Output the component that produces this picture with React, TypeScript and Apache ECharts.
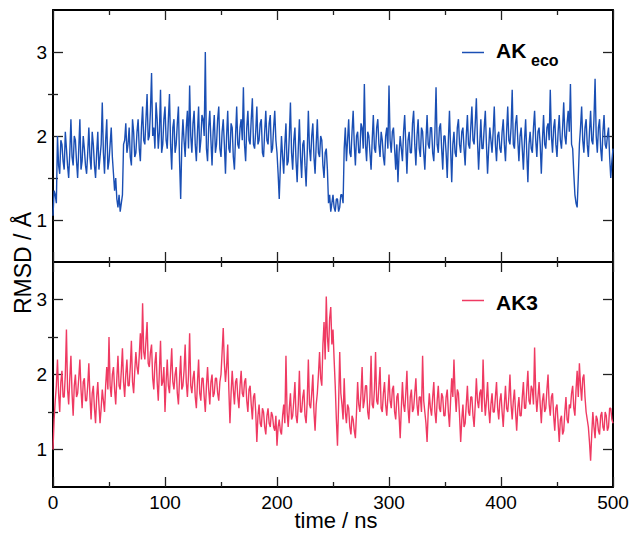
import { useEffect, useRef } from "react";
import * as echarts from "echarts";

// sampling step of the traces (ns)
const timeStepNs = 1;

// AK_eco RMSD (Å), t = 0, 1, ..., 500 ns (one row = 50 ns)
const akEcoRmsd = [
  1.05, 1.35, 1.3, 1.2, 2.0, 1.65, 1.55, 1.95, 1.9, 1.7, 1.6, 2.05, 1.85, 1.65, 1.5, 1.8, 2.2, 1.75, 1.65, 2.0, 1.95, 1.7, 1.5, 1.85, 2.2, 1.6, 1.7, 2.0, 1.85, 1.65, 1.55, 1.8, 2.1, 1.75, 1.6, 2.05, 1.9, 1.65, 1.5, 1.8, 2.05, 1.6, 1.75, 1.9, 2.4, 1.8, 1.55, 1.95, 2.2, 1.6,
  1.7, 1.9, 2.1, 1.75, 1.55, 1.35, 1.5, 1.25, 1.15, 1.3, 1.1, 1.2, 1.3, 1.9, 1.95, 2.15, 1.8, 1.9, 2.1, 1.75, 1.65, 2.2, 2.05, 1.75, 1.8, 2.05, 2.2, 1.85, 1.7, 2.1, 2.35, 1.95, 1.9, 2.2, 2.5, 1.95, 2.0, 2.3, 2.75, 2.0, 2.1, 1.85, 2.4, 2.2, 1.85, 2.05, 2.55, 1.8, 1.9, 2.2,
  2.35, 1.95, 1.85, 2.2, 2.5, 1.9, 1.6, 2.1, 2.2, 1.8, 1.9, 2.15, 2.35, 1.7, 1.25, 1.9, 2.2, 1.95, 1.75, 2.1, 2.3, 1.85, 2.6, 2.0, 1.8, 2.15, 2.3, 1.9, 1.7, 2.05, 2.35, 1.8, 1.95, 2.25, 2.2, 2.0, 3.0, 1.85, 1.7, 2.1, 2.3, 1.95, 1.65, 2.05, 2.25, 1.8, 1.9, 2.2, 2.35, 1.85,
  1.75, 2.05, 2.2, 1.9, 1.55, 2.0, 2.3, 1.85, 1.8, 2.15, 2.1, 1.75, 1.6, 2.0, 2.35, 1.9, 1.85, 2.1, 2.2, 1.95, 2.58, 1.9, 1.7, 2.1, 2.3, 1.95, 1.9, 2.2, 2.45, 1.9, 1.85, 2.05, 2.35, 1.9, 1.95, 2.15, 2.2, 1.8, 1.75, 2.05, 2.3, 1.95, 1.9, 2.15, 2.25, 1.8, 1.85, 2.1, 2.3, 1.95,
  1.8, 1.55, 1.25, 1.65, 2.0, 1.75, 1.55, 1.9, 2.15, 1.65, 1.7, 2.0, 2.4, 1.8, 1.6, 1.95, 2.1, 1.7, 1.45, 1.85, 2.2, 1.75, 1.5, 1.9, 1.95, 1.65, 1.4, 1.8, 2.3, 1.85, 1.7, 2.0, 2.15, 1.75, 1.55, 1.9, 2.2, 1.8, 1.75, 2.0, 1.95, 1.65, 1.5, 1.8, 1.85, 1.6, 1.2, 1.3, 1.1, 1.2,
  1.3, 1.15, 1.1, 1.25, 1.25, 1.1, 1.15, 1.3, 1.3, 1.2, 1.85, 2.1, 1.7, 1.95, 2.2, 1.8, 1.75, 2.05, 2.3, 1.9, 1.65, 2.0, 2.05, 1.8, 1.8, 2.15, 2.1, 1.85, 2.62, 1.9, 1.7, 2.05, 2.0, 1.8, 1.6, 1.95, 2.25, 1.85, 1.8, 2.1, 2.2, 1.9, 1.75, 2.05, 1.95, 1.75, 1.65, 2.0, 2.1, 1.85,
  2.6, 1.95, 1.8, 2.05, 2.1, 1.85, 1.6, 1.9, 1.45, 1.8, 2.0, 1.85, 1.7, 2.05, 2.25, 1.9, 1.55, 1.95, 2.05, 1.8, 1.8, 2.15, 2.3, 1.9, 1.65, 2.0, 2.2, 1.85, 1.75, 2.1, 2.05, 1.8, 1.6, 1.95, 2.25, 1.9, 1.85, 2.1, 2.1, 1.8, 1.7, 2.05, 2.58, 1.9, 1.8, 2.1, 2.15, 1.85, 1.6, 2.0,
  2.0, 1.8, 1.5, 1.95, 2.3, 1.85, 1.45, 1.9, 2.05, 1.8, 1.75, 2.1, 2.2, 1.9, 1.8, 2.05, 2.1, 1.85, 1.65, 2.0, 2.25, 1.9, 1.85, 2.1, 2.35, 1.95, 1.9, 2.15, 2.45, 1.95, 1.6, 1.9, 2.2, 1.85, 1.85, 2.1, 2.3, 1.9, 1.55, 1.85, 2.1, 1.95, 1.8, 2.05, 2.35, 1.9, 1.7, 2.0, 2.05, 1.85,
  1.8, 2.05, 2.2, 1.9, 1.7, 2.05, 2.35, 1.95, 1.9, 2.1, 2.55, 1.9, 1.85, 2.15, 2.25, 1.95, 1.7, 2.0, 2.1, 1.85, 1.6, 1.95, 2.2, 1.8, 1.45, 1.9, 2.05, 1.85, 1.8, 2.1, 2.3, 1.95, 1.75, 2.05, 2.1, 1.9, 1.55, 1.95, 2.25, 1.9, 1.85, 2.1, 2.15, 1.95, 2.55, 2.0, 1.8, 2.1, 2.2, 1.9,
  1.75, 2.05, 2.25, 1.95, 1.85, 2.1, 2.4, 2.0, 1.9, 2.15, 2.3, 2.05, 2.62, 1.9, 1.85, 1.55, 1.3, 1.2, 1.15, 1.5, 1.9, 2.1, 2.35, 1.95, 1.8, 2.1, 2.2, 1.9, 1.75, 2.05, 2.3, 1.95, 1.9, 2.2, 2.68, 2.0, 1.8, 2.1, 2.2, 1.85, 1.7, 2.05, 2.25, 1.9, 1.85, 2.0, 2.1, 1.75, 1.5, 1.7,
  1.85,
];

// AK3 RMSD (Å), t = 0, 1, ..., 500 ns (one row = 50 ns)
const ak3Rmsd = [
  1.0, 1.4, 1.65, 1.85, 2.2, 1.75, 1.5, 1.9, 2.05, 1.7, 1.7, 2.0, 2.6, 1.8, 1.6, 1.95, 2.25, 1.75, 1.45, 1.85, 2.0, 1.7, 1.75, 1.95, 2.2, 1.8, 1.55, 1.9, 1.95, 1.65, 1.65, 1.85, 2.15, 1.7, 1.4, 1.75, 1.85, 1.55, 1.35, 1.7, 1.9, 1.6, 1.35, 1.55, 1.8, 1.65, 1.5, 1.85, 2.1, 1.8,
  2.5, 1.85, 1.7, 2.0, 2.1, 1.8, 1.6, 1.95, 2.25, 1.85, 1.8, 2.05, 2.35, 1.9, 1.7, 2.0, 2.2, 1.85, 1.85, 2.1, 2.45, 1.9, 1.75, 2.05, 2.3, 2.1, 2.0, 2.25, 2.55, 2.2, 2.95, 2.3, 2.2, 2.45, 2.7, 2.15, 2.1, 2.3, 2.4, 1.95, 1.8, 2.15, 2.3, 1.9, 1.65, 2.05, 2.45, 1.85, 1.9, 2.1,
  1.5, 1.9, 2.2, 1.85, 1.75, 2.05, 2.35, 1.9, 1.8, 2.0, 2.1, 1.75, 1.6, 1.95, 2.25, 1.8, 1.85, 2.05, 2.4, 1.9, 1.7, 2.0, 2.55, 1.85, 1.75, 1.95, 2.05, 1.7, 1.55, 1.9, 2.2, 1.75, 1.65, 1.95, 1.95, 1.7, 1.5, 1.85, 2.1, 1.8, 1.6, 1.9, 2.0, 1.7, 1.75, 1.95, 1.95, 1.75, 1.65, 1.9,
  2.0, 2.3, 2.62, 2.15, 1.9, 2.1, 2.4, 1.8, 1.35, 1.75, 2.05, 1.8, 1.6, 1.9, 1.95, 1.7, 1.55, 1.85, 2.05, 1.75, 1.7, 1.9, 1.95, 1.65, 1.5, 1.8, 1.85, 1.6, 1.4, 1.7, 1.75, 1.5, 1.1, 1.45, 1.6, 1.35, 1.3, 1.55, 1.5, 1.3, 1.2, 1.45, 1.55, 1.35, 1.3, 1.5, 1.45, 1.3, 1.25, 1.45,
  1.05, 1.3, 1.4, 1.25, 1.2, 1.45, 1.6, 1.35, 2.25, 1.5, 1.3, 1.55, 1.75, 1.4, 1.45, 1.65, 1.9, 1.45, 1.35, 1.6, 2.05, 1.5, 1.5, 1.7, 1.8, 1.45, 1.35, 1.65, 2.2, 1.6, 1.55, 1.75, 2.0, 1.5, 1.25, 1.6, 1.75, 2.0, 2.3, 1.95, 1.85, 2.4, 2.7, 2.2, 3.04, 2.5, 2.3, 2.75, 2.9, 2.4,
  2.6, 2.2, 1.85, 1.4, 1.05, 1.6, 2.3, 1.75, 1.6, 1.4, 1.95, 1.5, 1.35, 1.6, 1.55, 1.3, 1.2, 1.45, 1.4, 1.25, 1.15, 1.5, 1.9, 1.6, 1.5, 1.75, 2.1, 1.55, 1.65, 1.85, 1.85, 1.5, 1.4, 1.7, 2.25, 1.6, 1.55, 1.8, 2.3, 1.65, 1.6, 1.85, 2.1, 1.55, 1.5, 1.75, 1.9, 1.6, 1.45, 1.7,
  2.0, 1.65, 1.55, 1.8, 1.85, 1.5, 1.4, 1.7, 1.75, 1.45, 1.15, 1.55, 1.9, 1.6, 1.5, 1.75, 2.05, 1.55, 1.35, 1.7, 1.8, 1.5, 1.55, 1.75, 1.95, 1.6, 1.45, 1.7, 1.7, 1.5, 2.25, 1.65, 1.5, 1.35, 1.1, 1.5, 1.75, 1.55, 1.45, 1.7, 1.9, 1.5, 1.35, 1.65, 1.85, 1.55, 1.5, 1.75, 1.7, 1.45,
  1.45, 1.7, 1.8, 1.5, 1.3, 1.65, 1.95, 1.7, 2.2, 1.75, 1.5, 1.8, 1.75, 1.45, 1.1, 1.4, 1.6, 1.3, 1.35, 1.6, 1.85, 1.5, 1.45, 1.7, 1.7, 1.45, 1.3, 1.6, 1.95, 1.65, 1.55, 1.75, 1.8, 1.5, 2.2, 1.7, 1.45, 1.65, 1.9, 1.55, 1.35, 1.6, 1.75, 1.5, 1.5, 1.7, 1.9, 1.55, 1.4, 1.65,
  1.75, 1.5, 1.3, 1.6, 1.85, 1.55, 1.5, 1.7, 2.0, 1.6, 1.4, 1.65, 1.8, 1.5, 1.25, 1.55, 1.7, 1.45, 1.45, 1.7, 1.9, 1.55, 1.55, 1.8, 2.05, 1.65, 1.6, 1.85, 1.8, 1.6, 2.36, 1.75, 1.5, 1.7, 1.9, 1.6, 1.35, 1.65, 1.75, 1.5, 1.55, 1.8, 2.0, 1.6, 1.45, 1.7, 1.75, 1.45, 1.25, 1.55,
  1.6, 1.35, 1.1, 1.4, 1.45, 1.2, 1.25, 1.5, 1.7, 1.4, 1.35, 1.6, 1.55, 1.75, 1.85, 1.55, 1.45, 1.8, 2.05, 1.7, 2.15, 1.85, 1.65, 1.95, 2.0, 1.7, 1.5, 1.4, 1.3, 1.1, 0.85, 1.2, 1.5, 1.3, 1.15, 1.45, 1.4, 1.25, 1.2, 1.45, 1.5, 1.3, 1.25, 1.5, 1.45, 1.25, 1.3, 1.55, 1.55, 1.4,
  1.35,
];

const yMajorTicks = [1, 2, 3];
const yHalfTicks = [1.5, 2.5];
const seriesNames = ["AKeco", "AK3"];

const BLUE = "#1a4fb4";
const RED = "#ef3a62";
const FONT = "'Liberation Sans', Arial, Helvetica, sans-serif";
const TICK = { color: "#222", width: 1.3 };

function xAxisFor(gridIndex: number, position: string, showLabels: boolean) {
  return {
    type: "value",
    gridIndex,
    position,
    min: 0,
    max: 500,
    interval: 100,
    axisLine: { show: true, onZero: false, lineStyle: { color: "#000", width: 2 } },
    axisTick: { show: true, inside: true, length: 10, lineStyle: TICK },
    minorTick: { show: true, splitNumber: 2, length: 5, lineStyle: TICK },
    splitLine: { show: false },
    minorSplitLine: { show: false },
    axisLabel: { show: showLabels, color: "#000", fontSize: 19, fontFamily: FONT, margin: 6 },
  };
}

function yMajorFor(gridIndex: number, position: string, showLabels: boolean) {
  return {
    type: "value",
    gridIndex,
    position,
    min: 0.5,
    max: 3.5,
    axisLine: { show: true, onZero: false, lineStyle: { color: "#000", width: 2 } },
    axisTick: { show: true, inside: true, length: 10, lineStyle: TICK, customValues: yMajorTicks },
    splitLine: { show: false },
    axisLabel: {
      show: showLabels,
      customValues: yMajorTicks,
      color: "#000",
      fontSize: 19,
      fontFamily: FONT,
      margin: 6,
    },
  };
}

function yMinorFor(gridIndex: number, position: string) {
  return {
    type: "value",
    gridIndex,
    position,
    min: 0.5,
    max: 3.5,
    axisLine: { show: false },
    axisTick: { show: true, inside: true, length: 5, lineStyle: TICK, customValues: yHalfTicks },
    splitLine: { show: false },
    axisLabel: { show: false },
  };
}

export default function App() {
  const ref = useRef<HTMLDivElement>(null);

  useEffect(() => {
    if (!ref.current) return;
    const chart = echarts.init(ref.current, null, { renderer: "svg" });
    const option: any = {
      animation: false,
      backgroundColor: "#fff",
      grid: [
        { left: 53, right: 19, top: 10, height: 252, outerBoundsMode: "none" },
        { left: 53, right: 19, top: 262, height: 225, outerBoundsMode: "none" },
      ],
      xAxis: [
        xAxisFor(0, "bottom", false),
        xAxisFor(0, "top", false),
        xAxisFor(1, "bottom", true),
        xAxisFor(1, "top", false),
      ],
      yAxis: [
        yMajorFor(0, "left", true),
        yMinorFor(0, "left"),
        yMajorFor(0, "right", false),
        yMinorFor(0, "right"),
        yMajorFor(1, "left", true),
        yMinorFor(1, "left"),
        yMajorFor(1, "right", false),
        yMinorFor(1, "right"),
      ],
      series: [
        {
          type: "line",
          name: seriesNames[0],
          xAxisIndex: 0,
          yAxisIndex: 0,
          data: akEcoRmsd.map((v, i) => [i * timeStepNs, v]),
          showSymbol: false,
          symbol: "none",
          lineStyle: { color: BLUE, width: 1.4 },
          itemStyle: { color: BLUE },
          silent: true,
        },
        {
          type: "line",
          name: seriesNames[1],
          xAxisIndex: 2,
          yAxisIndex: 4,
          data: ak3Rmsd.map((v, i) => [i * timeStepNs, v]),
          showSymbol: false,
          symbol: "none",
          lineStyle: { color: RED, width: 1.4 },
          itemStyle: { color: RED },
          silent: true,
        },
      ],
      graphic: [
        { type: "line", shape: { x1: 462, y1: 52.5, x2: 484, y2: 52.5 }, style: { stroke: BLUE, lineWidth: 1.5 } },
        { type: "text", x: 496, y: 50, style: { text: "AK", font: `bold 21px ${FONT}`, fill: "#000", verticalAlign: "middle" } },
        { type: "text", x: 531, y: 60.5, style: { text: "eco", font: `bold 16px ${FONT}`, fill: "#000", verticalAlign: "middle" } },
        { type: "line", shape: { x1: 462, y1: 300.5, x2: 484, y2: 300.5 }, style: { stroke: RED, lineWidth: 1.5 } },
        { type: "text", x: 496, y: 302, style: { text: "AK3", font: `bold 21px ${FONT}`, fill: "#000", verticalAlign: "middle" } },
        {
          type: "text",
          x: 22.5,
          y: 263,
          rotation: Math.PI / 2,
          style: { text: "RMSD / Å", font: `23px ${FONT}`, fill: "#000", align: "center", verticalAlign: "middle" },
        },
        {
          type: "text",
          x: 336,
          y: 520,
          style: { text: "time / ns", font: `22px ${FONT}`, fill: "#000", align: "center", verticalAlign: "middle" },
        },
      ],
    };
    chart.setOption(option);
    return () => chart.dispose();
  }, []);

  return (
    <div
      ref={ref}
      style={{ position: "fixed", left: 0, top: 0, width: 632, height: 533, background: "#fff" }}
    />
  );
}
